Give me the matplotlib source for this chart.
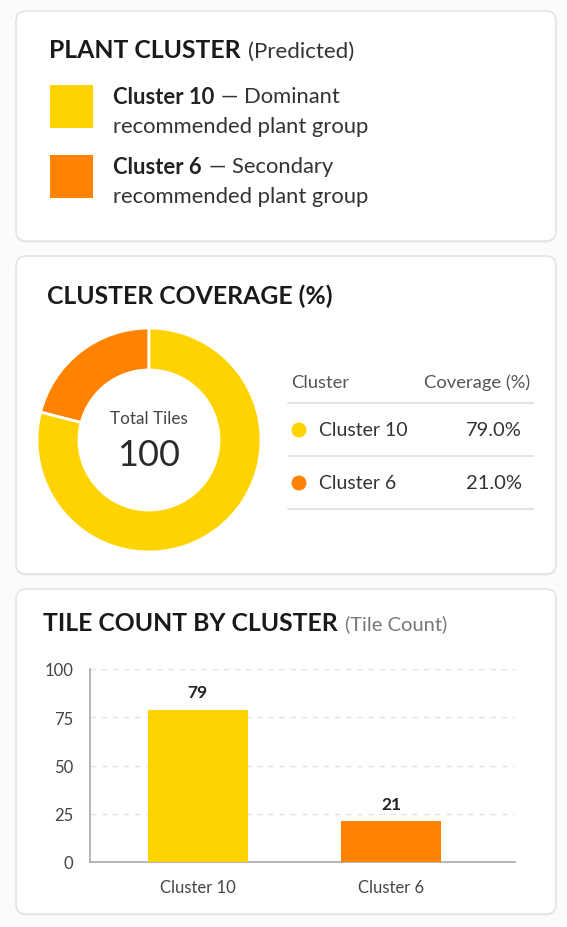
import matplotlib
matplotlib.use("Agg")
import matplotlib.pyplot as plt
from matplotlib.patches import FancyBboxPatch, Rectangle, Circle

plt.rcParams['font.family'] = ['Lato', 'DejaVu Sans']

# data
clusters = ["Cluster 10", "Cluster 6"]
tile_counts = [79, 21]
coverage = [79.0, 21.0]
descriptions = ["Dominant", "Secondary"]
colors = ["#FFD300", "#FF8300"]
total_tiles = sum(tile_counts)
y_ticks = [0, 25, 50, 75, 100]

W, H = 567, 928
fig = plt.figure(figsize=(W / 100, H / 100), dpi=100)
fig.patch.set_facecolor("#fbfbfb")

# background axes in pixel coords (y down)
bg = fig.add_axes([0, 0, 1, 1])
bg.set_xlim(0, W)
bg.set_ylim(H, 0)
bg.axis("off")


def card(x0, y0, x1, y1):
    shadow = FancyBboxPatch((x0, y0 + 1.5), x1 - x0, y1 - y0,
                            boxstyle="round,pad=0,rounding_size=10",
                            fc="#e9e9e9", ec="none", zorder=1)
    bg.add_patch(shadow)
    box = FancyBboxPatch((x0, y0), x1 - x0, y1 - y0,
                         boxstyle="round,pad=0,rounding_size=10",
                         fc="white", ec="#e2e2e2", lw=1.1, zorder=2)
    bg.add_patch(box)


def title(x, y, bold, extra, extra_size, extra_color):
    t = bg.text(x, y, bold, fontsize=17.8, fontweight="bold",
                color="#1a1a1a", va="center", ha="left", zorder=5)
    if extra:
        bg.annotate(extra, xy=(1, 0.5), xycoords=t, xytext=(5, -0.5),
                    textcoords="offset points", fontsize=extra_size,
                    color=extra_color, va="center", ha="left", zorder=5)


card(16, 12, 556, 242)
card(16, 257, 556, 575)
card(16, 590, 556, 915)

# ---- card 1: plant cluster legend
title(49, 51, "PLANT CLUSTER", "(Predicted)", 16, "#333333")

sw_y = [86, 156]
for i, name in enumerate(clusters):
    y = sw_y[i]
    bg.add_patch(Rectangle((50, y), 43, 43, fc=colors[i], ec="none", zorder=5))
    t = bg.text(113, y + 11, name, fontsize=15.8, fontweight="bold",
                color="#222222", va="center", ha="left", zorder=5)
    bg.annotate("\u2014 " + descriptions[i], xy=(1, 0.5), xycoords=t,
                xytext=(5, 0), textcoords="offset points", fontsize=15.8,
                color="#333333", va="center", ha="left", zorder=5)
    bg.text(113, y + 41, "recommended plant group", fontsize=15.8,
            color="#333333", va="center", ha="left", zorder=5)

# ---- card 2: coverage donut + table
title(47, 296, "CLUSTER COVERAGE (%)", None, 0, None)

cx, cy, r = 149, 441, 112
pax = fig.add_axes([(cx - r) / W, 1 - (cy + r) / H, 2 * r / W, 2 * r / H])
pax.pie(coverage[::-1], colors=colors[::-1], startangle=90, counterclock=True,
        radius=1, wedgeprops=dict(width=0.375, edgecolor="white", linewidth=2))
pax.set_xlim(-1, 1)
pax.set_ylim(-1, 1)
pax.set_zorder(5)
pax.text(0, 0.2, "Total Tiles", fontsize=12.3, color="#444444",
         ha="center", va="center")
pax.text(0, -0.13, str(total_tiles), fontsize=26, color="#2a2a2a",
         ha="center", va="center")

bg.text(291, 383, "Cluster", fontsize=13.2, color="#555555",
        va="center", ha="left", zorder=5)
bg.text(530, 383, "Coverage (%)", fontsize=13.2, color="#555555",
        va="center", ha="right", zorder=5)
for ly in [404, 457, 510]:
    bg.plot([288, 533], [ly, ly], color="#dedede", lw=1.2, zorder=5)
row_y = [431, 484]
for i, name in enumerate(clusters):
    bg.add_patch(Circle((299, row_y[i]), 7.5, fc=colors[i], ec="none", zorder=5))
    bg.text(319, row_y[i], name, fontsize=14, color="#333333",
            va="center", ha="left", zorder=5)
    bg.text(522, row_y[i], f"{coverage[i]:.1f}%", fontsize=14.5,
            color="#333333", va="center", ha="right", zorder=5)

# ---- card 3: tile count bar chart
title(43, 624, "TILE COUNT BY CLUSTER", "(Tile Count)", 14.5, "#777777")

ax = fig.add_axes([90 / W, 1 - 863 / H, 425 / W, 193 / H])
ax.set_zorder(5)
ax.patch.set_alpha(0)
x = list(range(len(clusters)))
ax.bar(x, tile_counts, width=0.517, color=colors, zorder=3)
for xi, v in zip(x, tile_counts):
    ax.annotate(str(v), xy=(xi, v), xytext=(0, 7), textcoords="offset points",
                ha="center", va="bottom", fontsize=12.5, fontweight="bold",
                color="#222222")
ax.set_ylim(0, 100)
ax.set_xlim(-0.556, 1.641)
ax.set_yticks(y_ticks)
ax.set_yticklabels([str(v) for v in y_ticks])
ax.set_xticks(x)
ax.set_xticklabels(clusters)
ax.yaxis.grid(True, linestyle=(0, (4, 4)), color="#e3e3e3", lw=1, zorder=0)
ax.tick_params(axis="both", length=0, labelsize=12, labelcolor="#444444")
ax.tick_params(axis="y", pad=12)
ax.tick_params(axis="x", pad=12)
for s in ["top", "right"]:
    ax.spines[s].set_visible(False)
for s in ["left", "bottom"]:
    ax.spines[s].set_color("#aaaaaa")
    ax.spines[s].set_linewidth(1.2)

fig.savefig("out.png", dpi=100, facecolor=fig.get_facecolor())
